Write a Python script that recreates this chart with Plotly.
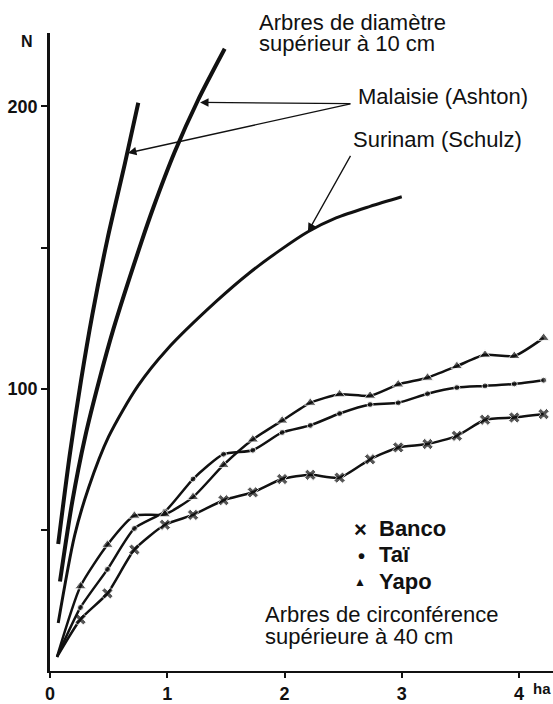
import plotly.graph_objects as go

# ---- Observed series: trees with circumference > 40 cm ----
area = [0.06, 0.26, 0.49, 0.72, 0.98, 1.22, 1.48, 1.73, 1.98, 2.22, 2.47,
        2.73, 2.97, 3.22, 3.47, 3.71, 3.96, 4.21]
banco = [5, 18.3, 27.5, 43, 51.8, 55.3, 60.5, 63.3, 68, 69.5, 68.5,
         75, 79.2, 80.4, 83.3, 89, 89.8, 91]
tai = [5, 22.5, 36, 50.5, 56.5, 68, 76.8, 78.2, 84.5, 87, 91.2,
       94.4, 95, 98.2, 100.4, 101, 101.7, 103]
yapo = [5, 30, 44.7, 55, 55.5, 61.6, 73, 82, 88.7, 95, 98,
        97.5, 101.5, 103.9, 108, 112, 111.6, 118]

# ---- Reference curves: trees with diameter > 10 cm ----
mal1_x = [0.07, 0.17, 0.265, 0.36, 0.49, 0.64, 0.753]
mal1_y = [45, 77, 103, 126, 153, 180, 201.3]
mal2_x = [0.085, 0.19, 0.30, 0.42, 0.54, 0.78, 0.88, 1.065, 1.26, 1.49]
mal2_y = [31.7, 60, 83, 103, 121, 152, 164, 184, 202, 220.4]
sur_x = [0.07, 0.21, 0.33, 0.5, 0.75, 1.0, 1.42, 1.70, 1.96, 2.2, 2.44, 2.73, 3.0]
sur_y = [17, 48, 65, 83, 101, 114, 131, 141, 149, 155.6, 160.5, 164.6, 168]

x_ticks = [0, 1, 2, 3, 4]
x_ticktext = ["0", "1", "2", "3", "4"]
y_ticks = [50, 100, 150, 200]
y_ticktext = ["", "100", "", "200"]

FONT = "Liberation Sans"
BLACK = "#111111"
W, H = 553, 704
L, R, T, B = 50, 0, 33, 29
pw, ph = W - L - R, H - T - B

fig = go.Figure()

# reference curves
for xs, ys, w in [(mal1_x, mal1_y, 4), (mal2_x, mal2_y, 4), (sur_x, sur_y, 3)]:
    fig.add_trace(go.Scatter(x=xs, y=ys, mode="lines",
                             line=dict(color=BLACK, width=w, shape="spline", smoothing=0.8),
                             showlegend=False, hoverinfo="skip"))

# observed series
series = [("Banco", banco, "x", 10), ("Taï", tai, "circle", 6), ("Yapo", yapo, "triangle-up", 10)]
for name, ys, sym, sz in series:
    sizes = [0] + [sz] * (len(ys) - 1)
    fig.add_trace(go.Scatter(x=area, y=ys, mode="lines+markers", name=name,
                             line=dict(color=BLACK, width=2.5, shape="spline", smoothing=0.6),
                             marker=dict(symbol=sym, size=sizes, color=BLACK),
                             showlegend=False))


def pap(xp, yp):
    """pixel position (reference image) -> paper coordinates of plot area"""
    return (xp - L) / pw, 1 - (yp - T) / ph


final = []
labels = [
    (257, 22, "Arbres de diamètre", 22, False, "left"),
    (257, 44, "supérieur à 10 cm", 22, False, "left"),
    (356, 97, "Malaisie (Ashton)", 22, False, "left"),
    (351, 140, "Surinam (Schulz)", 22, False, "left"),
    (263, 618, "Arbres de circonférence", 22, False, "left"),
    (263, 640, "supérieure à 40 cm", 22, False, "left"),
    # legend
    (360, 533, "×", 22, True, "center"),
    (361, 559, "•", 20, True, "center"),
    (360, 585, "▲", 12, False, "center"),
    (377, 532, "Banco", 22, True, "left"),
    (377, 558, "Taï", 22, True, "left"),
    (377, 585, "Yapo", 22, True, "left"),
    # axis labels
    (27, 42, "N", 16, True, "center"),
    (553, 693, "ha", 15, True, "right"),
]
for xp, yp, t, s, b, xa in labels:
    xx, yy = pap(xp, yp)
    final.append(dict(x=xx, y=yy, xref="paper", yref="paper",
                      text=(f"<b>{t}</b>" if b else t), showarrow=False,
                      xanchor=xa, yanchor="middle",
                      font=dict(family=FONT, size=s, color=BLACK)))

# arrows (data coordinates)
arrows = [((2.575, 201), (1.28, 201.4)), ((2.575, 201), (0.665, 183.5)), ((2.57, 183), (2.2, 155.6))]
for (tx, ty), (hx, hy) in arrows:
    final.append(dict(x=hx, y=hy, ax=tx, ay=ty, xref="x", yref="y", axref="x", ayref="y",
                      text="", showarrow=True, arrowhead=2, arrowsize=1.3, arrowwidth=1.3,
                      arrowcolor=BLACK))

fig.update_layout(
    width=W, height=H,
    margin=dict(l=L, r=R, t=T, b=B, pad=0),
    paper_bgcolor="white", plot_bgcolor="white",
    font=dict(family=FONT, color=BLACK),
    annotations=final,
    showlegend=False,
    xaxis=dict(range=[0, 4.29], showline=True, linewidth=2, linecolor=BLACK, ticks="outside",
               ticklen=5, tickwidth=2, tickcolor=BLACK, tickvals=x_ticks, ticktext=x_ticktext,
               tickfont=dict(family=FONT, size=18, color=BLACK, weight="bold"),
               showgrid=False, zeroline=False),
    yaxis=dict(range=[0, 226], showline=True, linewidth=2.5, linecolor=BLACK, ticks="outside",
               ticklen=6, tickwidth=2, tickcolor=BLACK, tickvals=y_ticks, ticktext=y_ticktext,
               tickfont=dict(family=FONT, size=18, color=BLACK, weight="bold"),
               showgrid=False, zeroline=False),
)

fig.write_html("out.html", config={"displayModeBar": False},
               post_script="document.body.style.margin='0';")
